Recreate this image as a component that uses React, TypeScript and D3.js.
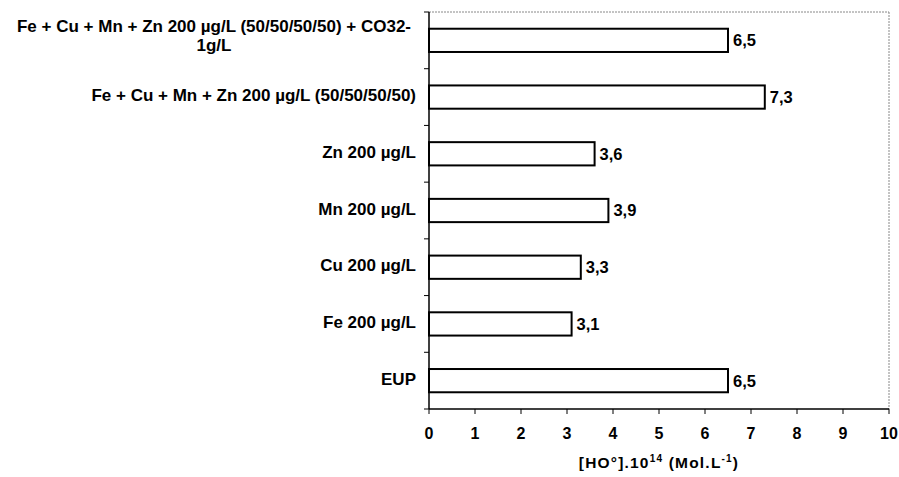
import React from "react";
import * as d3 from "d3";

const categories: string[] = [
  "Fe + Cu + Mn + Zn 200 µg/L (50/50/50/50) + CO32- 1g/L",
  "Fe + Cu + Mn + Zn 200 µg/L (50/50/50/50)",
  "Zn 200 µg/L",
  "Mn 200 µg/L",
  "Cu 200 µg/L",
  "Fe 200 µg/L",
  "EUP",
];
const categoryLines: string[][] = [
  ["Fe + Cu + Mn + Zn 200 µg/L (50/50/50/50) + CO32-", "1g/L"],
  ["Fe + Cu + Mn + Zn 200 µg/L (50/50/50/50)"],
  ["Zn 200 µg/L"],
  ["Mn 200 µg/L"],
  ["Cu 200 µg/L"],
  ["Fe 200 µg/L"],
  ["EUP"],
];
const values: number[] = [6.5, 7.3, 3.6, 3.9, 3.3, 3.1, 6.5];
const xTicks: number[] = [0, 1, 2, 3, 4, 5, 6, 7, 8, 9, 10];

const W = 899;
const H = 477;
const left = 429;
const right = 889;
const top = 12;
const bottom = 409;
const FONT = "'Liberation Sans', Arial, sans-serif";

export default function App() {
  const x = d3.scaleLinear().domain([0, 10]).range([left, right]);
  const y = d3
    .scaleBand<string>()
    .domain(categories)
    .range([top, bottom])
    .paddingInner(0.59)
    .paddingOuter(0.295);
  const step = y.step();
  const boundaries = d3.range(categories.length + 1).map((i) => top + i * step);
  const fmt = (v: number) => v.toFixed(1).replace(".", ",");

  return (
    <svg
      width={W}
      height={H}
      style={{ position: "absolute", left: 0, top: 0, background: "#fff" }}
      fontFamily={FONT}
    >
      <rect x={0} y={0} width={W} height={H} fill="#fff" />
      {/* plot border (top & right) dotted */}
      <line x1={left} x2={right} y1={top} y2={top} stroke="#888" strokeWidth={1} strokeDasharray="2,1" />
      <line x1={right} x2={right} y1={top} y2={bottom} stroke="#888" strokeWidth={1} strokeDasharray="2,1" />

      {/* bars */}
      {categories.map((c, i) => (
        <g key={c}>
          <rect
            x={x(0)}
            y={y(c)!}
            width={x(values[i]) - x(0)}
            height={y.bandwidth()}
            fill="#fff"
            stroke="#000"
            strokeWidth={2}
          />
          <text
            x={x(values[i]) + 5}
            y={y(c)! + y.bandwidth() / 2}
            dy="0.36em"
            fontSize={16.5}
            fontWeight="bold"
            fill="#000"
          >
            {fmt(values[i])}
          </text>
        </g>
      ))}

      {/* y axis */}
      <line x1={left} x2={left} y1={top} y2={bottom} stroke="#000" strokeWidth={1.5} />
      {boundaries.map((b, i) => (
        <line key={i} x1={left - 5} x2={left} y1={b} y2={b} stroke="#000" strokeWidth={1} />
      ))}
      {categories.map((c, i) => {
        const lines = categoryLines[i];
        const cy = y(c)! + y.bandwidth() / 2 - 2;
        if (lines.length === 1) {
          return (
            <text
              key={c}
              x={left - 13}
              y={cy}
              dy="0.36em"
              textAnchor="end"
              fontSize={17}
              fontWeight="bold"
              fill="#000"
            >
              {lines[0]}
            </text>
          );
        }
        return (
          <text key={c} x={214} y={cy} textAnchor="middle" fontSize={17} fontWeight="bold" fill="#000">
            {lines.map((l, j) => (
              <tspan key={j} x={214} dy={j === 0 ? "-0.35em" : "1.12em"}>
                {l}
              </tspan>
            ))}
          </text>
        );
      })}

      {/* x axis */}
      <line x1={left} x2={right} y1={bottom} y2={bottom} stroke="#000" strokeWidth={1.5} />
      {xTicks.map((t) => (
        <g key={t}>
          <line x1={x(t)} x2={x(t)} y1={bottom} y2={bottom + 5} stroke="#000" strokeWidth={1} />
          <text x={x(t)} y={bottom + 24} dy="0.36em" textAnchor="middle" fontSize={16} fontWeight="bold" fill="#000">
            {t}
          </text>
        </g>
      ))}
      <text
        x={(left + right) / 2}
        y={468}
        textAnchor="middle"
        fontSize={15.5}
        fontWeight="bold"
        letterSpacing={1.2}
        fill="#000"
      >
        [HO°].10
        <tspan fontSize={10} dy={-6}>14</tspan>
        <tspan dy={6}> (Mol.L</tspan>
        <tspan fontSize={10} dy={-6}>-1</tspan>
        <tspan dy={6}>)</tspan>
      </text>
    </svg>
  );
}
